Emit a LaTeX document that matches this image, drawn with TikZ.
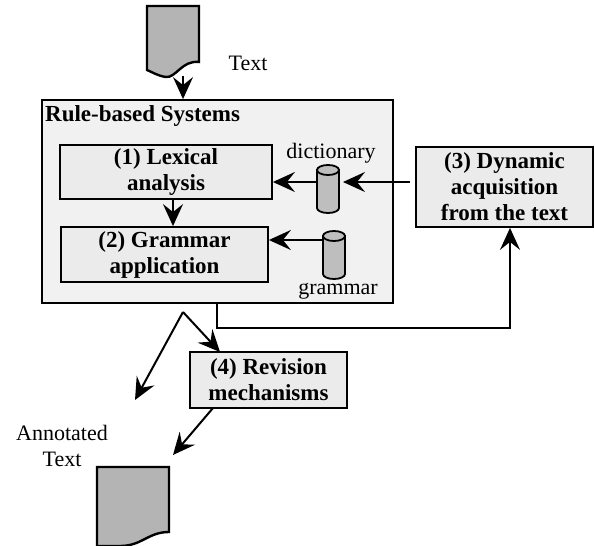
\documentclass[tikz,border=0pt]{standalone}
\usepackage{fontspec}
\setmainfont{Liberation Serif}
\usetikzlibrary{arrows.meta}
\definecolor{docgrey}{HTML}{B4B4B4}
\definecolor{cylgrey}{HTML}{BEBEBE}
\definecolor{boxgrey}{HTML}{EBEBEB}
\definecolor{outergrey}{HTML}{F1F1F1}
\tikzset{
  procbox/.style={draw=black, line width=1.8pt, fill=boxgrey, align=center, inner sep=0pt,
    font=\fontsize{23}{26}\selectfont\bfseries},
  lbl/.style={inner sep=0pt, font=\fontsize{22}{26}\selectfont, align=center},
  conn/.style={line width=2pt, arrows={-Stealth[length=22pt, width=20pt, inset=8pt]}},
  cylline/.style={draw=black, line width=1.8pt, fill=cylgrey},
  docshape/.style={draw=black, line width=2.4pt, fill=docgrey}
}
\begin{document}
\begin{tikzpicture}[x=1pt,y=-1pt]
\useasboundingbox (0,0) rectangle (595,546);
% top document
\draw[docshape] (147,6) -- (199,6) -- (199,62) .. controls (182,60) and (176,78) .. (166,77)
  .. controls (158,76) and (152,72) .. (147,70) -- cycle;
\coordinate (docin) at (183,76);
\node[lbl] (textlbl) at (248,63) {Text};
% outer box
\node[draw=black, line width=1.8pt, fill=outergrey, minimum width=351pt, minimum height=203pt, inner sep=0pt]
  (outer) at (217.5,201.5) {};
\node[inner sep=0pt, anchor=west, font=\fontsize{23}{26}\selectfont\bfseries] (rbs) at (45,116) {Rule-based Systems};
% boxes
\node[procbox, minimum width=212pt, minimum height=54pt] (b1) at (166,172) {(1) Lexical\\analysis};
\node[procbox, minimum width=207pt, minimum height=55pt] (b2) at (164.5,254.5) {(2) Grammar\\application};
\node[procbox, minimum width=177pt, minimum height=80pt] (b3) at (504.5,187) {(3) Dynamic\\acquisition\\from the text};
\node[procbox, minimum width=157pt, minimum height=56pt] (b4) at (268.5,380) {(4) Revision\\mechanisms};
% cylinders (dictionary)
\node[minimum width=22pt, minimum height=48pt, inner sep=0pt] (dict) at (328,189) {};
\draw[cylline] (317,170) -- (317,208) arc[start angle=180, end angle=0, x radius=11, y radius=5] -- (339,170) -- cycle;
\draw[cylline] (328,170) ellipse[x radius=11, y radius=5];
% cylinders (grammar)
\node[minimum width=22pt, minimum height=49pt, inner sep=0pt] (gram) at (334,255) {};
\draw[cylline] (323,236) -- (323,274) arc[start angle=180, end angle=0, x radius=11, y radius=5] -- (345,236) -- cycle;
\draw[cylline] (334,236) ellipse[x radius=11, y radius=5];
\node[lbl] (dictlbl) at (331,153) {dictionary};
\node[lbl] (gramlbl) at (338,291) {grammar};
% bottom document
\draw[docshape] (97,467) -- (169,467) -- (169,532) .. controls (148,532) and (142,546) .. (120,546)
  -- (97,546) -- cycle;
\node[lbl] (annot) at (62,446) {Annotated\\Text};
% connectors
\draw[conn] (docin) -- (outer.north -| docin);
\draw[conn] (b1.south -| 173,0) -- (b2.north -| 173,0);
\coordinate (b3w) at (410,182);
\draw[conn] (b3w) -- (343,182);
\draw[conn] (dict.west |- 0,182) -- (b1.east |- 0,182);
\draw[conn] (gram.west |- 0,240) -- (b2.east |- 0,240);
\coordinate (outbot) at (217,303);
\coordinate (turn1) at (217,328);
\coordinate (turn2) at (510,328);
\draw[conn] (outbot) -- (turn1) -- (turn2) -- (b3.south -| turn2);
\coordinate (split) at (183,312);
\coordinate (freeend) at (135,400);
\coordinate (b4in) at (220,352);
\draw[conn] (split) -- (freeend);
\draw[conn] (split) -- (b4in);
\coordinate (b4out) at (213,408);
\coordinate (docout) at (173,455);
\draw[conn] (b4out) -- (docout);
\end{tikzpicture}
\end{document}
